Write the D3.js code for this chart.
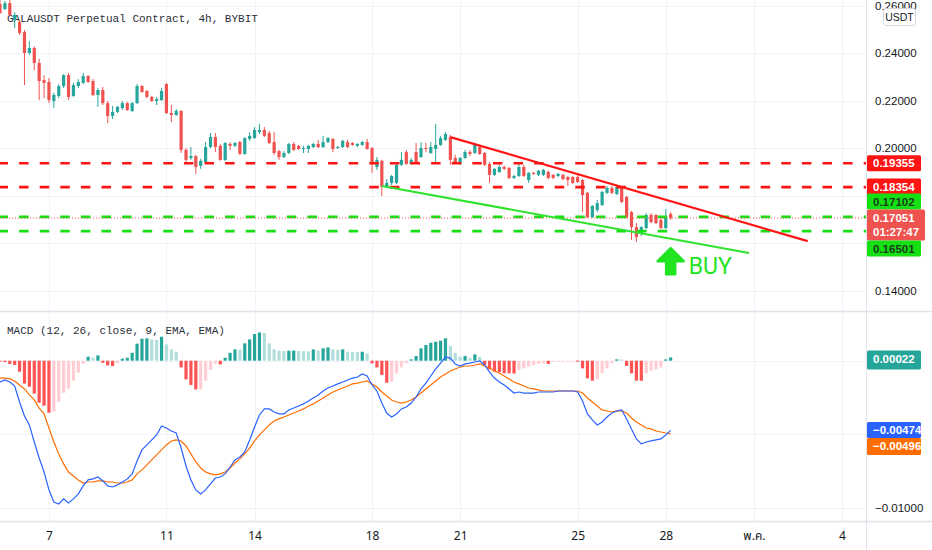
<!DOCTYPE html>
<html lang="th">
<head>
<meta charset="utf-8">
<title>GALAUSDT Perpetual Contract, 4h, BYBIT</title>
<script src="https://cdn.jsdelivr.net/npm/d3@7"></script>
<style>
  body { margin: 0; background: #ffffff; }
  svg { display: block; font-family: "Liberation Sans", Arial, sans-serif; }
  .axis text { fill: #131722; font-size: 11.5px; }
  .axis .domain { display: none; }
  .mono { font-family: "Liberation Mono", "DejaVu Sans Mono", monospace; font-size: 11px; fill: #2a2e39; }
</style>
</head>
<body>
<svg id="chart" width="932" height="550"></svg>
<script>
// 4h bars, first bar Apr 5 08:00
var barOpen = [
  .2606,.2585,.2610,.2539,.2530,.2488,.2400,.2421,.2358,.2286,
  .2278,.2198,.2219,.2261,.2307,.2219,.2261,.2274,.2303,.2282,
  .2223,.2244,.2189,.2135,.2152,.2168,.2189,.2156,.2189,.2261,
  .2240,.2215,.2198,.2202,.2269,.2147,.2139,.2156,.1992,.1958,
  .1966,.1925,.1941,.2004,.2046,.2009,.1950,.2017,.2009,.2025,
  .1975,.2038,.2042,.2067,.2076,.2063,.2025,.1987,.1962,.1979,
  .2017,.2009,.1996,.1996,.2004,.2017,.2004,.2025,.2038,.2000,
  .2004,.2025,.2021,.2009,.2013,.2025,.2000,.1920,.1946,.1836,
  .1853,.1853,.1929,.1983,.1933,.1983,.1962,.2000,.1979,.1996,
  .2013,.2034,.2046,.1958,.1933,.1958,.1983,.1979,.2004,.1979,
  .1933,.1887,.1899,.1920,.1916,.1874,.1882,.1920,.1865,.1895,
  .1887,.1887,.1899,.1887,.1882,.1887,.1878,.1878,.1878,.1865,
  .1811,.1709,.1739,.1760,.1811,.1832,.1806,.1832,.1794,.1730,
  .1667,.1638,.1663,.1718,.1718,.1697,.1663,.1722];
var barHigh = [
  .2623,.2619,.2623,.2572,.2539,.2497,.2450,.2429,.2375,.2307,
  .2295,.2232,.2269,.2311,.2316,.2274,.2290,.2316,.2307,.2290,
  .2253,.2257,.2198,.2177,.2177,.2198,.2194,.2194,.2269,.2265,
  .2244,.2219,.2215,.2253,.2274,.2181,.2164,.2160,.2000,.2004,
  .1971,.1954,.2025,.2063,.2063,.2017,.2025,.2025,.2025,.2030,
  .2046,.2067,.2088,.2101,.2088,.2072,.2067,.1992,.1987,.2021,
  .2025,.2013,.2009,.2013,.2021,.2034,.2051,.2046,.2042,.2009,
  .2034,.2034,.2025,.2021,.2030,.2038,.2004,.1962,.1950,.1869,
  .1887,.1937,.1983,.1992,.1958,.2021,.2025,.2021,.2025,.2101,
  .2051,.2067,.2055,.1971,.1962,.1992,.1992,.2021,.2013,.1983,
  .1941,.1916,.1929,.1925,.1920,.1887,.1941,.1929,.1899,.1899,
  .1908,.1912,.1904,.1891,.1895,.1891,.1882,.1882,.1891,.1869,
  .1815,.1760,.1781,.1819,.1840,.1840,.1840,.1840,.1798,.1735,
  .1684,.1672,.1726,.1726,.1722,.1705,.1743,.1730];
var barLow = [
  .2564,.2581,.2556,.2505,.2476,.2265,.2391,.2328,.2202,.2210,
  .2189,.2168,.2210,.2253,.2202,.2215,.2253,.2269,.2274,.2219,
  .2173,.2181,.2105,.2122,.2147,.2160,.2156,.2152,.2185,.2232,
  .2210,.2194,.2181,.2198,.2143,.2109,.2135,.1979,.1937,.1950,
  .1891,.1912,.1937,.2000,.1983,.1946,.1946,.1992,.2004,.1971,
  .1971,.2030,.2038,.2059,.2046,.2017,.1971,.1950,.1958,.1975,
  .1987,.1992,.1979,.1979,.2000,.2000,.2000,.2021,.1983,.1996,
  .2000,.2000,.2009,.2004,.2009,.1992,.1895,.1908,.1798,.1832,
  .1844,.1848,.1925,.1929,.1929,.1937,.1958,.1983,.1975,.1937,
  .2009,.2030,.1929,.1933,.1929,.1954,.1966,.1975,.1971,.1925,
  .1853,.1882,.1895,.1908,.1869,.1869,.1878,.1878,.1853,.1887,
  .1882,.1882,.1869,.1869,.1878,.1865,.1840,.1848,.1853,.1730,
  .1705,.1705,.1730,.1756,.1806,.1806,.1802,.1768,.1705,.1613,
  .1604,.1629,.1659,.1684,.1680,.1659,.1659,.1697];
var barClose = [
  .2568,.2610,.2560,.2560,.2484,.2400,.2421,.2358,.2282,.2274,
  .2202,.2223,.2261,.2307,.2215,.2265,.2278,.2303,.2278,.2223,
  .2244,.2189,.2135,.2152,.2173,.2189,.2160,.2189,.2261,.2236,
  .2215,.2198,.2206,.2240,.2147,.2139,.2156,.1992,.1950,.1966,
  .1920,.1946,.2004,.2046,.2004,.1950,.2021,.2009,.2021,.1975,
  .2042,.2051,.2076,.2076,.2051,.2021,.1979,.1962,.1979,.2017,
  .1992,.1996,.2000,.2009,.2017,.2004,.2025,.2042,.1996,.2004,
  .2030,.2004,.2013,.2017,.2025,.1996,.1937,.1950,.1836,.1853,
  .1882,.1929,.1950,.1933,.1950,.1937,.2000,.1996,.2004,.2013,
  .2042,.2059,.1950,.1937,.1958,.1983,.1975,.2013,.1975,.1929,
  .1887,.1912,.1920,.1912,.1874,.1882,.1920,.1882,.1895,.1891,
  .1904,.1908,.1874,.1874,.1891,.1869,.1865,.1853,.1857,.1802,
  .1709,.1756,.1768,.1815,.1832,.1811,.1836,.1773,.1709,.1667,
  .1625,.1667,.1718,.1688,.1684,.1663,.1710,.17051];

// MACD (12, 26, close, 9)
var macdLine = [
  -0.00145,-0.00131,-0.00145,-0.00172,-0.00281,-0.00376,-0.00437,-0.00553,-0.00662,-0.00757,
  -0.00879,-0.00961,-0.00975,-0.00940,-0.00968,-0.00940,-0.00906,-0.00852,-0.00811,-0.00804,
  -0.00791,-0.00818,-0.00852,-0.00859,-0.00845,-0.00825,-0.00804,-0.00770,-0.00682,-0.00607,
  -0.00573,-0.00539,-0.00505,-0.00444,-0.00458,-0.00478,-0.00492,-0.00594,-0.00716,-0.00811,
  -0.00879,-0.00906,-0.00879,-0.00838,-0.00798,-0.00791,-0.00770,-0.00723,-0.00675,-0.00655,
  -0.00621,-0.00539,-0.00451,-0.00369,-0.00328,-0.00328,-0.00349,-0.00362,-0.00362,-0.00335,
  -0.00322,-0.00308,-0.00294,-0.00274,-0.00254,-0.00233,-0.00206,-0.00186,-0.00172,-0.00158,
  -0.00145,-0.00131,-0.00118,-0.00111,-0.00090,-0.00104,-0.00165,-0.00206,-0.00288,-0.00356,
  -0.00383,-0.00362,-0.00328,-0.00315,-0.00288,-0.00247,-0.00192,-0.00152,-0.00104,-0.00056,
  -0.00016,0.00025,0.00018,-0.00022,-0.00036,-0.00022,-0.00016,-0.00009,-0.00002,-0.00029,
  -0.00077,-0.00118,-0.00145,-0.00165,-0.00192,-0.00220,-0.00213,-0.00220,-0.00220,-0.00220,
  -0.00213,-0.00213,-0.00213,-0.00213,-0.00206,-0.00206,-0.00206,-0.00206,-0.00213,-0.00274,
  -0.00362,-0.00403,-0.00437,-0.00417,-0.00383,-0.00356,-0.00342,-0.00335,-0.00396,-0.00464,
  -0.00532,-0.00566,-0.00553,-0.00546,-0.00539,-0.00532,-0.00505,-0.00474];
var signalLine = [
  -0.00118,-0.00118,-0.00124,-0.00138,-0.00165,-0.00192,-0.00233,-0.00267,-0.00322,-0.00362,
  -0.00458,-0.00553,-0.00634,-0.00702,-0.00757,-0.00784,-0.00811,-0.00832,-0.00825,-0.00825,
  -0.00818,-0.00818,-0.00825,-0.00825,-0.00832,-0.00832,-0.00825,-0.00811,-0.00770,-0.00743,
  -0.00709,-0.00675,-0.00641,-0.00607,-0.00573,-0.00546,-0.00539,-0.00546,-0.00580,-0.00634,
  -0.00689,-0.00730,-0.00757,-0.00770,-0.00777,-0.00770,-0.00757,-0.00730,-0.00696,-0.00668,
  -0.00634,-0.00594,-0.00546,-0.00505,-0.00471,-0.00437,-0.00410,-0.00396,-0.00383,-0.00369,
  -0.00356,-0.00342,-0.00328,-0.00308,-0.00294,-0.00274,-0.00254,-0.00233,-0.00213,-0.00199,
  -0.00186,-0.00172,-0.00158,-0.00152,-0.00145,-0.00138,-0.00158,-0.00179,-0.00213,-0.00240,
  -0.00267,-0.00281,-0.00288,-0.00281,-0.00267,-0.00247,-0.00220,-0.00192,-0.00165,-0.00138,
  -0.00111,-0.00090,-0.00070,-0.00056,-0.00043,-0.00036,-0.00036,-0.00029,-0.00022,-0.00036,
  -0.00050,-0.00070,-0.00084,-0.00104,-0.00124,-0.00145,-0.00158,-0.00172,-0.00186,-0.00192,
  -0.00199,-0.00206,-0.00206,-0.00206,-0.00206,-0.00206,-0.00206,-0.00206,-0.00206,-0.00220,
  -0.00254,-0.00281,-0.00308,-0.00335,-0.00342,-0.00349,-0.00342,-0.00342,-0.00356,-0.00390,
  -0.00417,-0.00437,-0.00458,-0.00464,-0.00478,-0.00485,-0.00492,-0.00496];
var histogram = [
  -0.00007,-0.00010,-0.00022,-0.00029,-0.00075,-0.00156,-0.00177,-0.00224,-0.00286,-0.00306,
  -0.00354,-0.00347,-0.00279,-0.00218,-0.00190,-0.00136,-0.00082,-0.00020,0.00027,0.00020,
  0.00036,-0.00014,-0.00032,-0.00036,-0.00018,0.00014,0.00020,0.00054,0.00116,0.00150,
  0.00152,0.00145,0.00141,0.00163,0.00111,0.00077,0.00061,-0.00046,-0.00127,-0.00165,
  -0.00195,-0.00194,-0.00136,-0.00063,-0.00022,-0.00025,0.00020,0.00054,0.00077,0.00075,
  0.00118,0.00145,0.00182,0.00192,0.00189,0.00118,0.00077,0.00068,0.00066,0.00068,
  0.00069,0.00066,0.00065,0.00064,0.00077,0.00068,0.00084,0.00090,0.00077,0.00073,
  0.00077,0.00061,0.00059,0.00058,0.00061,0.00050,-0.00018,-0.00046,-0.00097,-0.00150,
  -0.00143,-0.00086,-0.00046,-0.00018,0.00009,0.00032,0.00084,0.00107,0.00122,0.00129,
  0.00136,0.00152,0.00100,0.00054,0.00027,0.00032,0.00020,0.00043,0.00027,-0.00029,
  -0.00059,-0.00075,-0.00077,-0.00085,-0.00086,-0.00087,-0.00063,-0.00052,-0.00041,-0.00029,
  -0.00022,-0.00018,-0.00022,-0.00007,-0.00005,-0.00004,-0.00003,-0.00002,-0.00007,-0.00052,
  -0.00120,-0.00136,-0.00127,-0.00086,-0.00052,-0.00018,0.00009,0.00008,-0.00036,-0.00086,
  -0.00136,-0.00137,-0.00086,-0.00068,-0.00059,-0.00046,0.00009,0.00022];

// drawings on the chart
var resistLevels = [0.19355, 0.18354];
var supportLevels = [0.17102, 0.16501];
var lastPrice = 0.17051;
var countdown = "01:27:47";
var redTrend = [[new Date(2022, 3, 20, 16), 0.2046], [new Date(2022, 4, 2, 20), 0.1608]];
var greenTrend = [[new Date(2022, 3, 18, 8), 0.1840], [new Date(2022, 3, 30, 20), 0.1558]];
var buySignal = [new Date(2022, 3, 28, 4), 0.1578];

// axes (grid at every tick, labels only where the scale tags leave room)
var priceTicks = [0.26, 0.24, 0.22, 0.20, 0.18, 0.16, 0.14];
var priceLabelTicks = [0.26, 0.24, 0.22, 0.20, 0.14];
var macdTicks = [0, -0.005, -0.01];
var macdLabelTicks = [-0.01];
var dayTicks = [new Date(2022,3,7), new Date(2022,3,11), new Date(2022,3,14), new Date(2022,3,18),
  new Date(2022,3,21), new Date(2022,3,25), new Date(2022,3,28), new Date(2022,4,1), new Date(2022,4,4)];
var dayLabels = ["7", "11", "14", "18", "21", "25", "28", "พ.ค.", "4"];

var startTime = new Date(2022, 3, 5, 8);
var plotW = 866, priceTop = 0, priceBottom = 311, macdTop = 312, macdBottom = 521;
var upColor = "#26a69a", downColor = "#ef5350";
var lineRed = "#ff1414", lineGreen = "#14e014";

var svg = d3.select("#chart");

var bars = barOpen.map(function(o, i) {
  return { t: d3.timeHour.offset(startTime, 4 * i), o: o, h: barHigh[i], l: barLow[i], c: barClose[i],
           m: macdLine[i], s: signalLine[i], hist: histogram[i] };
});

var x = d3.scaleTime().domain([startTime, new Date(2022, 4, 4)]).range([0, 842]);
var y = d3.scaleLinear().domain([0.14, 0.26]).range([290.5, 5.5]);
var ym = d3.scaleLinear().domain([-0.01, 0]).range([507.7, 360.7]);

var defs = svg.append("defs");
defs.append("clipPath").attr("id", "clipPrice").append("rect")
    .attr("x", 0).attr("y", priceTop).attr("width", plotW).attr("height", priceBottom - priceTop);
defs.append("clipPath").attr("id", "clipMacd").append("rect")
    .attr("x", 0).attr("y", macdTop).attr("width", plotW).attr("height", macdBottom - macdTop);

// grid
var grid = svg.append("g").attr("stroke", "#f0f3fa").attr("stroke-width", 1);
grid.selectAll(".vg").data(dayTicks).enter().append("line")
    .attr("x1", function(d) { return Math.round(x(d)) + 0.5; })
    .attr("x2", function(d) { return Math.round(x(d)) + 0.5; })
    .attr("y1", 0).attr("y2", macdBottom);
grid.selectAll(".hg").data(priceTicks).enter().append("line")
    .attr("x1", 0).attr("x2", plotW)
    .attr("y1", function(d) { return Math.round(y(d)) + 0.5; })
    .attr("y2", function(d) { return Math.round(y(d)) + 0.5; });
grid.selectAll(".mg").data(macdTicks).enter().append("line")
    .attr("x1", 0).attr("x2", plotW)
    .attr("y1", function(d) { return Math.round(ym(d)) + 0.5; })
    .attr("y2", function(d) { return Math.round(ym(d)) + 0.5; });

// titles
svg.append("text").attr("class", "mono").attr("x", 7).attr("y", 22)
    .text("GALAUSDT Perpetual Contract, 4h, BYBIT");
svg.append("text").attr("class", "mono").attr("x", 7).attr("y", 334)
    .text("MACD (12, 26, close, 9, EMA, EMA)");

// price pane
var pane = svg.append("g").attr("clip-path", "url(#clipPrice)");
var bw = 3.2;
var candle = pane.selectAll(".candle").data(bars).enter().append("g")
    .attr("fill", function(d) { return d.c >= d.o ? upColor : downColor; })
    .attr("stroke", function(d) { return d.c >= d.o ? upColor : downColor; });
candle.append("line")
    .attr("x1", function(d) { return x(d.t); }).attr("x2", function(d) { return x(d.t); })
    .attr("y1", function(d) { return y(d.h); }).attr("y2", function(d) { return y(d.l); })
    .attr("stroke-width", 1);
candle.append("rect")
    .attr("stroke", "none")
    .attr("x", function(d) { return x(d.t) - bw / 2; })
    .attr("width", bw)
    .attr("y", function(d) { return y(Math.max(d.o, d.c)); })
    .attr("height", function(d) { return Math.max(1, Math.abs(y(d.o) - y(d.c))); });

// horizontal levels
function level(p, color) {
  pane.append("line").attr("x1", 0).attr("x2", plotW)
      .attr("y1", y(p)).attr("y2", y(p))
      .attr("stroke", color).attr("stroke-width", 2.6)
      .attr("stroke-dasharray", "9.5 11.1").attr("stroke-dashoffset", 1.5);
}
resistLevels.forEach(function(p) { level(p, lineRed); });
supportLevels.forEach(function(p) { level(p, lineGreen); });

pane.append("line").attr("x1", 0).attr("x2", plotW)
    .attr("y1", y(lastPrice)).attr("y2", y(lastPrice))
    .attr("stroke", downColor).attr("stroke-width", 1).attr("stroke-dasharray", "1 2");

// trend lines
var trend = d3.line().x(function(d) { return x(d[0]); }).y(function(d) { return y(d[1]); });
pane.append("path").attr("d", trend(redTrend)).attr("fill", "none")
    .attr("stroke", lineRed).attr("stroke-width", 2.2);
pane.append("path").attr("d", trend(greenTrend)).attr("fill", "none")
    .attr("stroke", "#2ee22e").attr("stroke-width", 2);

// buy arrow
var ax = x(buySignal[0]), ay = y(buySignal[1]);
var arrow = d3.path();
arrow.moveTo(ax, ay);
arrow.lineTo(ax + 13, ay + 13);
arrow.lineTo(ax + 4.5, ay + 13);
arrow.lineTo(ax + 4.5, ay + 26);
arrow.lineTo(ax - 4.5, ay + 26);
arrow.lineTo(ax - 4.5, ay + 13);
arrow.lineTo(ax - 13, ay + 13);
arrow.closePath();
pane.append("path").attr("d", arrow.toString())
    .attr("fill", "#1fe41f").attr("stroke", "#1fe41f").attr("stroke-width", 2.5)
    .attr("stroke-linejoin", "round");
pane.append("text").attr("x", ax + 18).attr("y", ay + 25.5)
    .attr("font-family", "Roboto, 'Liberation Sans', sans-serif").attr("font-size", 23)
    .attr("fill", "#1fe41f").text("BUY");

// macd pane
var mp = svg.append("g").attr("clip-path", "url(#clipMacd)");
mp.selectAll(".hbar").data(bars).enter().append("rect")
    .attr("x", function(d) { return x(d.t) - bw / 2; })
    .attr("width", bw)
    .attr("y", function(d) { return Math.min(ym(d.hist), ym(0)); })
    .attr("height", function(d) { return Math.max(0.8, Math.abs(ym(d.hist) - ym(0))); })
    .attr("fill", function(d, i) {
      var prev = i > 0 ? bars[i - 1].hist : d.hist;
      if (d.hist >= 0) return prev < d.hist ? "#26a69a" : "#b2dfdb";
      return prev < d.hist ? "#ffcdd2" : "#ff5252";
    });
mp.append("path").datum(bars).attr("fill", "none").attr("stroke", "#ff6d00").attr("stroke-width", 1.2)
    .attr("d", d3.line().x(function(d) { return x(d.t); }).y(function(d) { return ym(d.s); }));
mp.append("path").datum(bars).attr("fill", "none").attr("stroke", "#2962ff").attr("stroke-width", 1.2)
    .attr("d", d3.line().x(function(d) { return x(d.t); }).y(function(d) { return ym(d.m); }));

// frame lines
var frame = svg.append("g").attr("stroke", "#e0e3eb");
frame.append("line").attr("x1", 0).attr("x2", 932).attr("y1", 311.5).attr("y2", 311.5).attr("stroke-width", 1.5);
frame.append("line").attr("x1", 0).attr("x2", 932).attr("y1", 521.5).attr("y2", 521.5).attr("stroke-width", 1.5);
frame.append("line").attr("x1", 866.5).attr("x2", 866.5).attr("y1", 0).attr("y2", 550);

// axes
var fmt = d3.format(".5f");
svg.append("g").attr("class", "axis").attr("transform", "translate(866,0)")
    .call(d3.axisRight(y).tickValues(priceLabelTicks).tickFormat(fmt).tickSize(0).tickPadding(9));
svg.append("g").attr("class", "axis").attr("transform", "translate(866,0)")
    .call(d3.axisRight(ym).tickValues(macdLabelTicks).tickFormat(fmt).tickSize(0).tickPadding(9));
svg.append("g").attr("class", "axis").attr("transform", "translate(0,521)")
    .call(d3.axisBottom(x).tickValues(dayTicks).tickFormat(function(d, i) { return dayLabels[i]; })
      .tickSize(0).tickPadding(10))
  .selectAll("text").style("font-size", "12px")
    .style("font-family", "'Noto Sans Thai', 'Noto Sans', 'DejaVu Sans', sans-serif");

// currency badge
var badge = svg.append("g");
badge.append("rect").attr("x", 883.5).attr("y", 8.5).attr("width", 32).attr("height", 17).attr("rx", 3)
    .attr("fill", "#fff").attr("stroke", "#d1d4dc");
badge.append("text").attr("x", 899.5).attr("y", 21).attr("text-anchor", "middle")
    .attr("font-size", 10.5).attr("fill", "#131722").text("USDT");

// price tags on the scale
function tag(yc, h, fill, color, lines, w) {
  var g = svg.append("g");
  g.append("rect").attr("x", 867).attr("y", yc - h / 2).attr("width", w || 54).attr("height", h)
      .attr("rx", 1.5).attr("fill", fill);
  lines.forEach(function(s, k) {
    g.append("text").attr("x", 873).attr("y", yc - h / 2 + 12 + k * 14)
        .attr("font-size", 11.5).attr("font-weight", "bold").attr("fill", color).text(s);
  });
}
var lastY = y(lastPrice), lastTop = lastY - 8.5, lastH = 31;
tag(y(resistLevels[0]), 16, "#ff1414", "#fff", [fmt(resistLevels[0])]);
tag(y(resistLevels[1]), 17, "#ff1414", "#fff", [fmt(resistLevels[1])]);
tag(lastTop - 8, 16, "#14e014", "#1b3d1b", [fmt(supportLevels[0])]);
tag(lastTop + lastH / 2, lastH, downColor, "#fff", [fmt(lastPrice), countdown], 58);
tag(lastTop + lastH + 8, 16, "#14e014", "#1b3d1b", [fmt(supportLevels[1])]);

var lastBar = bars[bars.length - 1];
tag(360, 19, "#26a69a", "#fff", [fmt(lastBar.hist)]);
var mY = ym(lastBar.m);
tag(mY - 0.5, 16, "#2962ff", "#fff", [fmt(lastBar.m)]);
tag(mY + 16, 17, "#ff6d00", "#fff", [fmt(lastBar.s)]);
</script>
</body>
</html>
